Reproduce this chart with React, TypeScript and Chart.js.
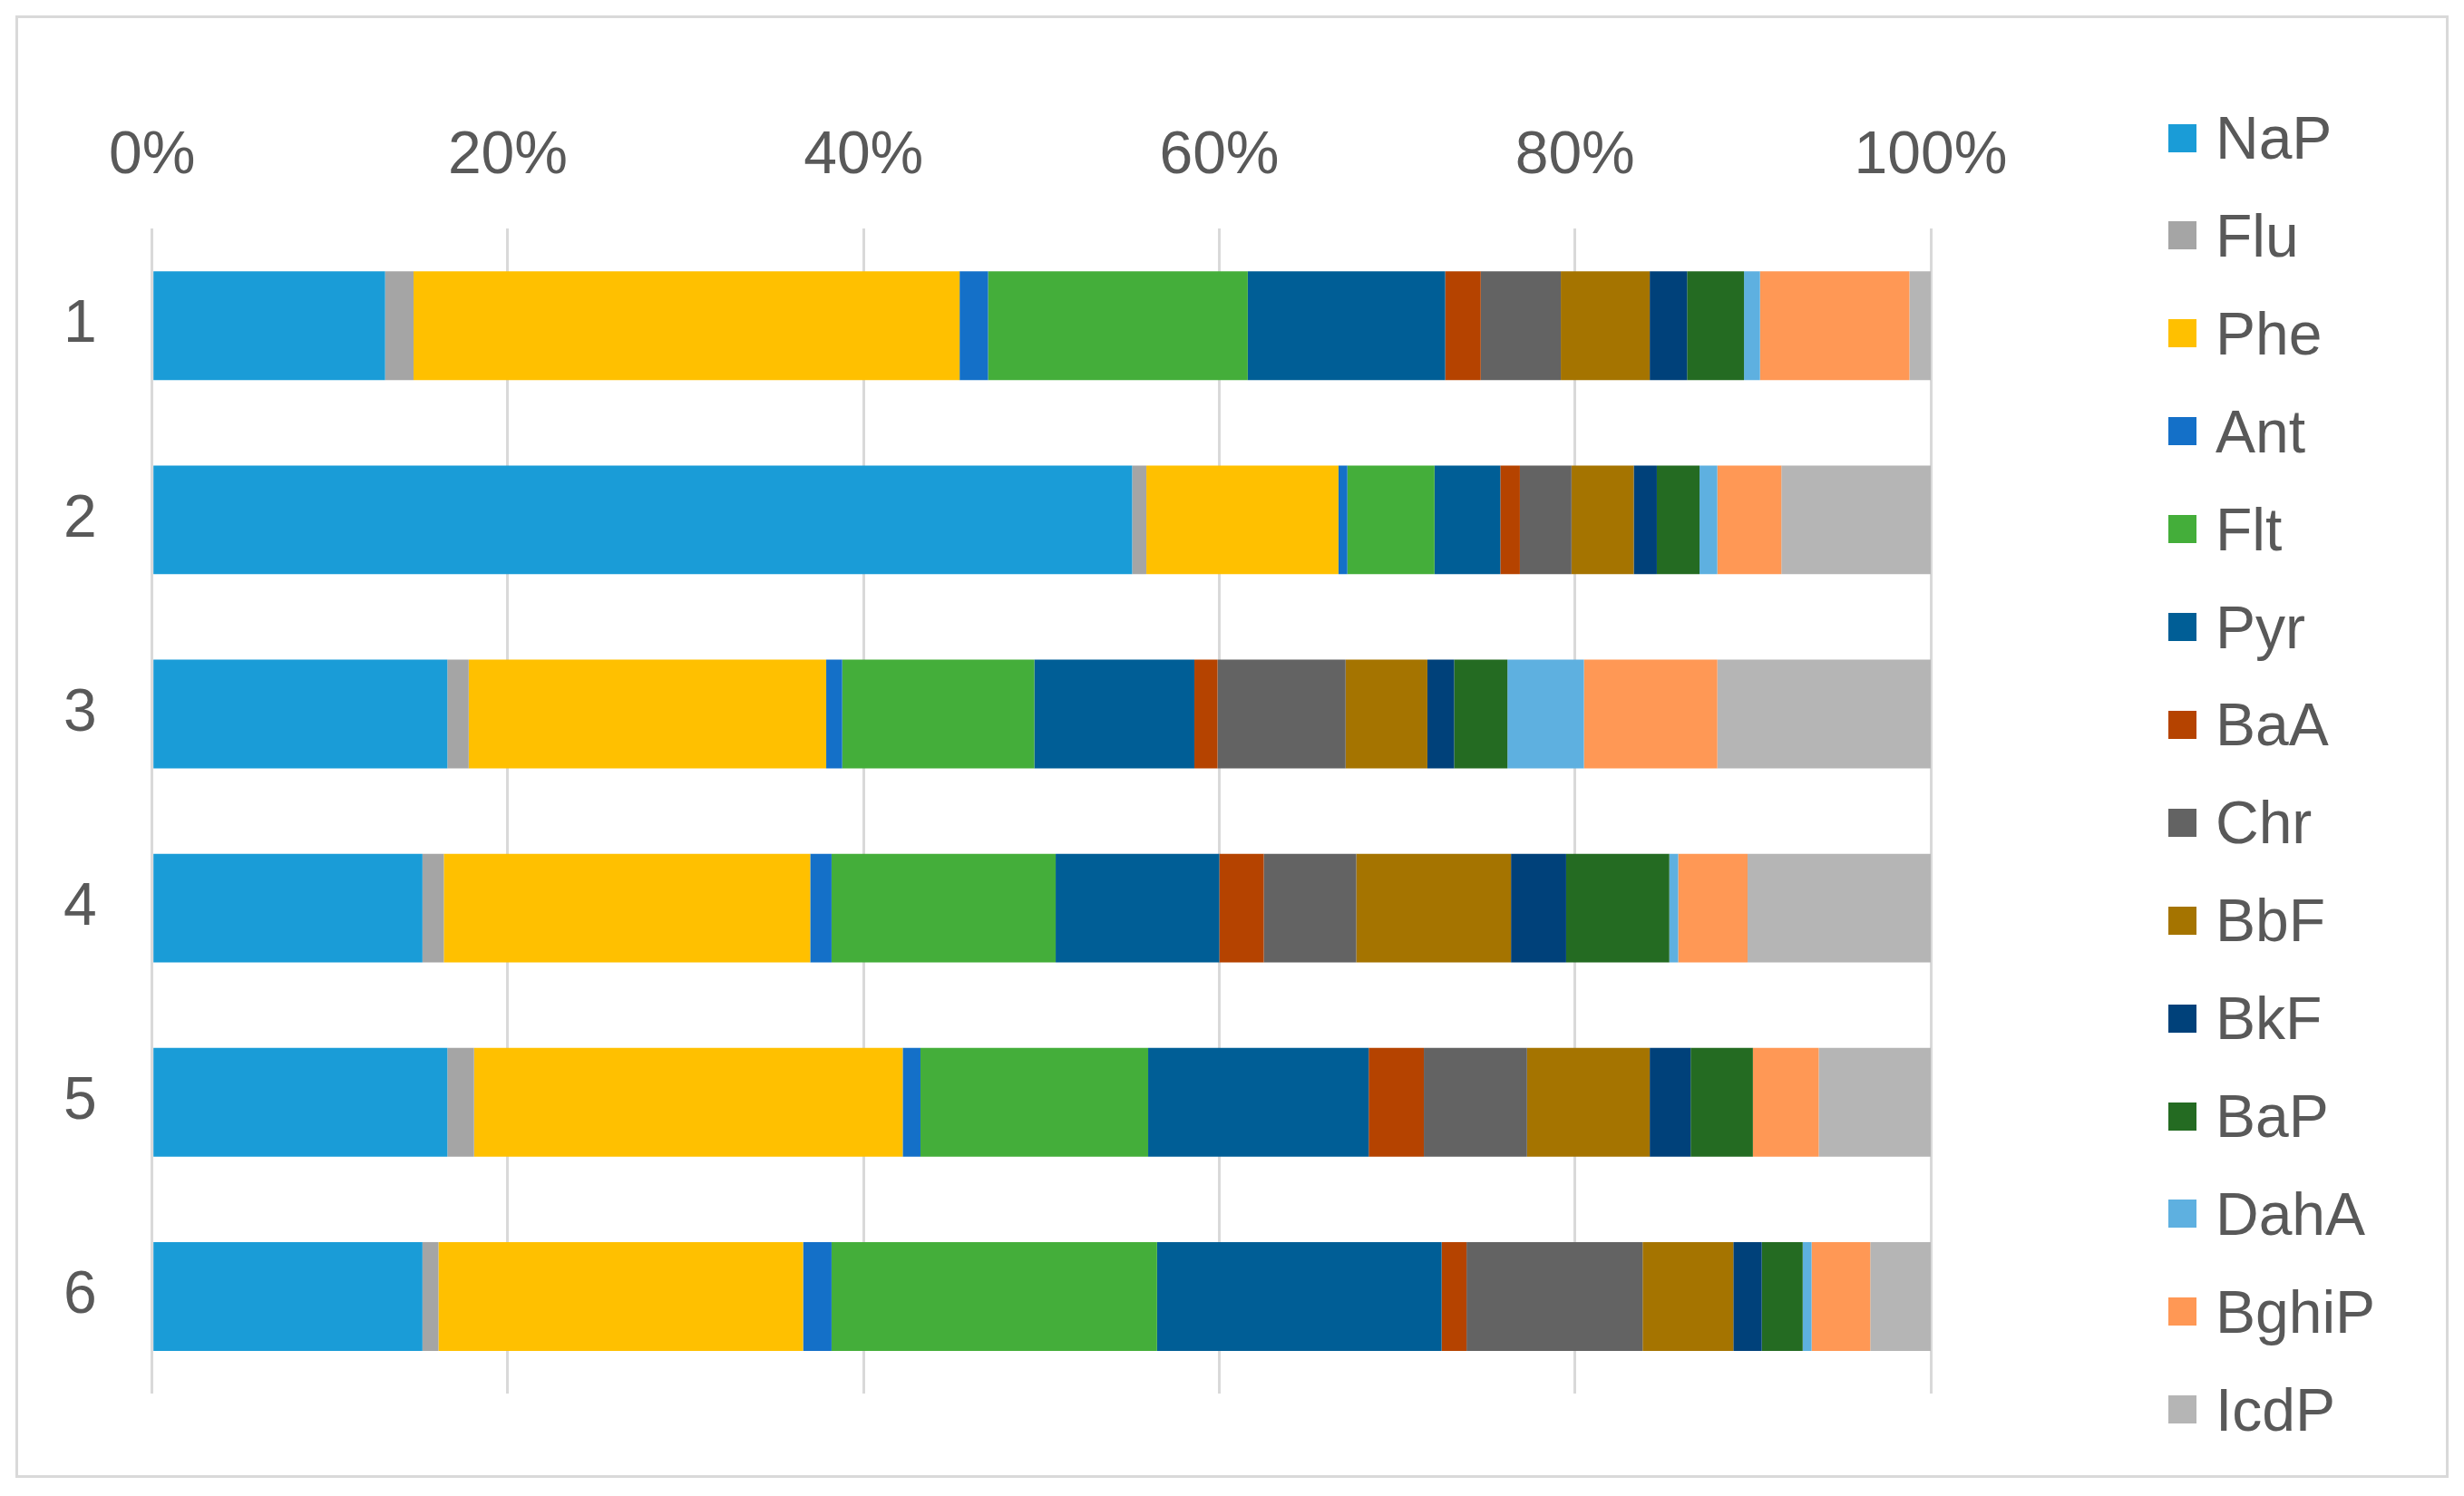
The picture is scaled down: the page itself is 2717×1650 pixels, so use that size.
import React, { useEffect, useRef } from "react";
import { Chart, registerables } from "chart.js";

Chart.register(...registerables);

const samples = ["1", "2", "3", "4", "5", "6"];
const xTicks = [0, 20, 40, 60, 80, 100];

const NaP = [13.1, 55.1, 16.6, 15.2, 16.6, 15.2];
const Flu = [1.6, 0.8, 1.2, 1.2, 1.5, 0.9];
const Phe = [30.7, 10.8, 20.1, 20.6, 24.1, 20.5];
const Ant = [1.6, 0.5, 0.9, 1.2, 1.0, 1.6];
const Flt = [14.6, 4.9, 10.8, 12.6, 12.8, 18.3];
const Pyr = [11.1, 3.7, 9.0, 9.2, 12.4, 16.0];
const BaA = [2.0, 1.1, 1.3, 2.5, 3.1, 1.4];
const Chr = [4.5, 2.9, 7.2, 5.2, 5.8, 9.9];
const BbF = [5.0, 3.5, 4.6, 8.7, 6.9, 5.1];
const BkF = [2.1, 1.3, 1.5, 3.1, 2.3, 1.6];
const BaP = [3.2, 2.4, 3.0, 5.8, 3.5, 2.3];
const DahA = [0.9, 1.0, 4.3, 0.5, 0.0, 0.5];
const BghiP = [8.4, 3.6, 7.5, 3.9, 3.7, 3.3];
const IcdP = [1.2, 8.4, 12.0, 10.3, 6.3, 3.4];

const seriesNames = ["NaP", "Flu", "Phe", "Ant", "Flt", "Pyr", "BaA", "Chr", "BbF", "BkF", "BaP", "DahA", "BghiP", "IcdP"];
const seriesValues = [NaP, Flu, Phe, Ant, Flt, Pyr, BaA, Chr, BbF, BkF, BaP, DahA, BghiP, IcdP];
const seriesColors = [
  "#1A9CD7", "#A5A5A5", "#FFC000", "#1470C8", "#44AE3A", "#005E96", "#B54300",
  "#636363", "#A57400", "#00417A", "#246B22", "#5EB0E0", "#FF9855", "#B5B5B5",
];

const FONT = "'Liberation Sans', Arial, sans-serif";
const TEXT = "#595959";

export default function App() {
  const ref = useRef<HTMLCanvasElement | null>(null);

  useEffect(() => {
    if (!ref.current) return;
    const chart = new Chart(ref.current, {
      type: "bar",
      data: {
        labels: samples,
        datasets: seriesNames.map((n, i) => ({
          label: n,
          data: seriesValues[i],
          backgroundColor: seriesColors[i],
          borderWidth: 0,
          barPercentage: 1,
          categoryPercentage: 0.56,
        })),
      },
      options: {
        indexAxis: "y",
        animation: false,
        responsive: false,
        devicePixelRatio: 1,
        layout: { padding: { left: 9, right: 588, top: 93, bottom: 113 } },
        plugins: { legend: { display: false }, tooltip: { enabled: false } },
        scales: {
          x: {
            position: "top",
            stacked: true,
            min: 0,
            max: 100,
            afterBuildTicks: (axis: any) => {
              axis.ticks = xTicks.map((v) => ({ value: v }));
            },
            ticks: {
              callback: (v: any) => v + "%",
              font: { family: FONT, size: 66 },
              color: TEXT,
              padding: 40,
              maxRotation: 0,
            },
            grid: { color: "#D9D9D9", lineWidth: 3, drawTicks: false },
            border: { display: false },
          },
          y: {
            stacked: true,
            ticks: {
              font: { family: FONT, size: 66 },
              color: TEXT,
              padding: 61,
            },
            grid: { display: false, drawTicks: false },
            border: { display: false },
          },
        },
      },
    });
    return () => chart.destroy();
  }, []);

  return (
    <div style={{ position: "absolute", left: 0, top: 0, width: 2717, height: 1650, background: "#fff" }}>
      <div
        style={{
          position: "absolute",
          left: 17,
          top: 17,
          width: 2677,
          height: 1607,
          border: "3px solid #D9D9D9",
        }}
      />
      <canvas ref={ref} width={2717} height={1650} style={{ position: "absolute", left: 0, top: 0, width: 2717, height: 1650 }} />
      {seriesNames.map((n, i) => (
        <div
          key={n}
          style={{
            position: "absolute",
            left: 2391,
            top: 152 + i * 107.9 - 40,
            height: 80,
            display: "flex",
            alignItems: "center",
            fontFamily: FONT,
            fontSize: 66,
            color: TEXT,
            whiteSpace: "nowrap",
          }}
        >
          <span style={{ display: "inline-block", width: 31, height: 31, background: seriesColors[i], marginRight: 21 }} />
          <span>{n}</span>
        </div>
      ))}
    </div>
  );
}
